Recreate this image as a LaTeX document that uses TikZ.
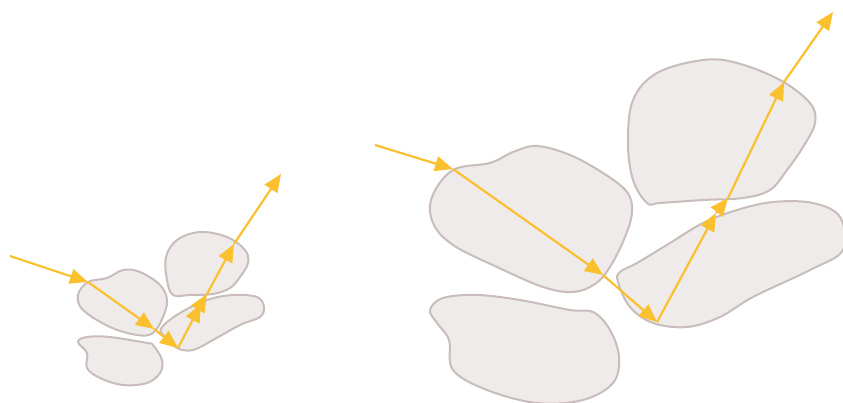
\documentclass[tikz,border=0pt]{standalone}
\usetikzlibrary{arrows.meta}
\definecolor{rayc}{RGB}{251,192,45}
\definecolor{blobfill}{RGB}{239,235,234}
\definecolor{blobline}{RGB}{201,189,187}
\begin{document}
\begin{tikzpicture}[x=1pt,y=-1pt,
  blob/.style={fill=blobfill,draw=blobline,line width=2pt,smooth cycle,tension=0.6},
  ray/.style={draw=rayc,line width=2.2pt,-{Triangle[length=18pt,width=15pt]}}]
\useasboundingbox (0,0) rectangle (843,403);
% right cluster
\draw[blob] plot coordinates {(453,170) (490,163) (513,152) (537,146) (570,155) (603,173) (627,192) (632,212) (625,237) (610,267) (595,284) (573,292) (543,287) (497,267) (453,245) (433,223) (432,197)};
\draw[blob] plot coordinates {(430,310) (443,298) (477,295) (520,300) (570,310) (593,312) (610,330) (619,357) (613,383) (583,400) (537,403) (487,390) (453,370) (449,340) (437,323)};
\draw[blob] plot coordinates {(647,203) (633,180) (628,143) (633,100) (657,73) (703,60) (737,63) (780,80) (810,103) (815,123) (803,147) (787,170) (770,190) (743,198) (703,200) (660,203)};
\draw[blob] plot coordinates {(620,272) (637,263) (670,243) (703,223) (737,210) (773,202) (813,203) (840,217) (843,250) (810,270) (753,297) (720,317) (687,327) (653,323) (630,307) (618,282)};
% left cluster
\draw[blob] plot coordinates {(88,282) (107,278) (123,270) (140,272) (160,285) (167,300) (163,317) (153,333) (137,335) (110,327) (83,310) (78,295)};
\draw[blob] plot coordinates {(78,342) (87,337) (110,337) (147,343) (153,345) (162,360) (160,373) (147,383) (123,385) (100,378) (87,368) (87,353)};
\draw[blob] plot coordinates {(173,295) (167,280) (166,257) (177,240) (200,232) (227,237) (245,250) (248,263) (240,277) (230,288) (213,294) (190,295)};
\draw[blob] plot coordinates {(162,327) (180,313) (207,300) (233,295) (257,297) (264,307) (260,317) (240,325) (213,340) (193,350) (177,348) (163,335)};
% right ray
\coordinate (R0) at (375,145);
\coordinate (R1) at (453,169);
\coordinate (R2) at (603,275);
\coordinate (R3) at (657,322);
\coordinate (R4) at (716,213);
\coordinate (R5) at (728,198);
\coordinate (R6) at (784,82);
\coordinate (R7) at (833,12);
\draw[ray] (R0) -- (R1);
\draw[ray] (R1) -- (R2);
\draw[ray] (R2) -- (R3);
\draw[ray] (R3) -- (R4);
\draw[ray] (R4) -- (R5);
\draw[ray] (R5) -- (R6);
\draw[ray] (R6) -- (R7);
% left ray
\coordinate (L0) at (10,256);
\coordinate (L1) at (88,282);
\coordinate (L2) at (154,329);
\coordinate (L3) at (178,348);
\coordinate (L4) at (201,304);
\coordinate (L5) at (207,294);
\coordinate (L6) at (234,244);
\coordinate (L7) at (281,174);
\draw[ray] (L0) -- (L1);
\draw[ray] (L1) -- (L2);
\draw[ray] (L2) -- (L3);
\draw[ray] (L3) -- (L4);
\draw[ray] (L4) -- (L5);
\draw[ray] (L5) -- (L6);
\draw[ray] (L6) -- (L7);
\end{tikzpicture}
\end{document}
